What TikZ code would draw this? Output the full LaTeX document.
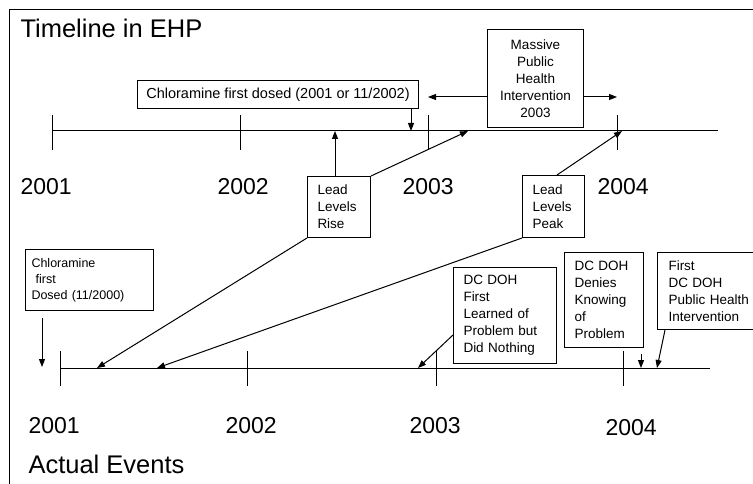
\documentclass[tikz,border=0pt]{standalone}
\usepackage{fontspec}
\setmainfont{Liberation Sans}
\usetikzlibrary{arrows.meta}
\begin{document}
\begin{tikzpicture}[x=1pt,y=-1pt,
  line width=1pt,
  arr/.style={-{Triangle[length=8pt,width=6pt]}},
  box/.style={draw, rectangle, anchor=north west, inner ysep=0pt,
    font=\fontsize{13.5}{17}\selectfont},
  year/.style={anchor=base west, inner sep=0pt, font=\fontsize{23}{26}\selectfont},
  head/.style={anchor=base west, inner sep=0pt, font=\fontsize{25.5}{28}\selectfont}]
\useasboundingbox (0,0) rectangle (753,484);
\fill[white] (0,0) rectangle (753,484);
% frame
\draw (9,492) -- (9,10) -- (760,10);
% titles
\node[head] (title) at (20,38) {Timeline in EHP};
\node[head] (actual) at (28,473) {Actual Events};
% top timeline
\coordinate (tl) at (52,131);
\coordinate (tr) at (718,131);
\draw (tl) -- (tr);
\foreach \x in {52,240,428,617} \draw (\x,115) -- (\x,150);
\node[year] (y1) at (20,195) {2001};
\node[year] (y2) at (217,195) {2002};
\node[year] (y3) at (402,195) {2003};
\node[year] (y4) at (597,195) {2004};
% bottom timeline
\coordinate (bl) at (60,368);
\coordinate (br) at (710,368);
\draw (bl) -- (br);
\foreach \x in {60,247,436,623} \draw (\x,351) -- (\x,386);
\node[year] (z1) at (28,433) {2001};
\node[year] (z2) at (225,433) {2002};
\node[year] (z3) at (409,433) {2003};
\node[year] (z4) at (605,435) {2004};
% top boxes
\node[box, minimum width=281pt, minimum height=28pt, align=center,
  font=\fontsize{14.5}{17}\selectfont] (ctop) at (137,80)
  {Chloramine first dosed (2001 or 11/2002)};
\node[box, minimum width=96pt, minimum height=98pt, align=center] (mass) at (487,29)
  {Massive\\Public\\Health\\Intervention\\2003};
\node[box, text width=43pt, inner xsep=10pt, minimum height=61pt, align=left] (rise) at (307,176)
  {Lead\\Levels\\Rise};
\node[box, text width=42pt, inner xsep=10pt, minimum height=62pt, align=left] (peak) at (522,175)
  {Lead\\Levels\\Peak};
% bottom boxes
\node[box, text width=116pt, inner xsep=6pt, minimum height=61pt, align=left,
  font=\fontsize{12.5}{16}\selectfont] (cbot) at (25,249)
  {Chloramine\\\ first\\Dosed (11/2000)};
\node[box, text width=83pt, inner xsep=10pt, minimum height=96pt, align=left] (learn) at (453,267)
  {DC DOH\\First\\Learned of\\Problem but\\Did Nothing};
\node[box, text width=59pt, inner xsep=10pt, minimum height=95pt, align=left] (deny) at (564,252)
  {DC DOH\\Denies\\Knowing\\of\\Problem};
\node[box, text width=90pt, inner xsep=11pt, minimum height=77pt, align=left] (first) at (657,252)
  {First\\DC DOH\\Public Health\\Intervention};
% connector targets
\coordinate (p411) at (411,131);
\coordinate (ml) at (428,97);
\coordinate (mr) at (617,97);
\coordinate (p335) at (335,131);
\coordinate (p468) at (468,131);
\coordinate (p622) at (622,131);
\coordinate (q97) at (97,368);
\coordinate (q157) at (157,368);
\coordinate (q42) at (42,367);
\coordinate (q418) at (418,368);
\coordinate (ls) at (452,335);
\coordinate (q641) at (641,368);
\coordinate (q657) at (657,368);
\coordinate (fs) at (665,329);
\coordinate (ps) at (557,175);
% connectors
\draw[arr] (ctop.south -| p411) -- (p411);
\draw[arr] (mass.west |- ml) -- (ml);
\draw[arr] (mass.east |- mr) -- (mr);
\draw[arr] (rise.north -| p335) -- (p335);
\draw[arr] (rise.north east) -- (p468);
\draw[arr] (peak.north -| ps) -- (p622);
\draw[arr] (rise.south west) -- (q97);
\draw[arr] (peak.south west) -- (q157);
\draw[arr, shorten <=7pt] (cbot.south -| q42) -- (q42);
\draw[arr] (learn.west |- ls) -- (q418);
\draw[arr, shorten <=6pt] (deny.south -| q641) -- (q641);
\draw[arr] (first.south -| fs) -- (q657);
\end{tikzpicture}
\end{document}
